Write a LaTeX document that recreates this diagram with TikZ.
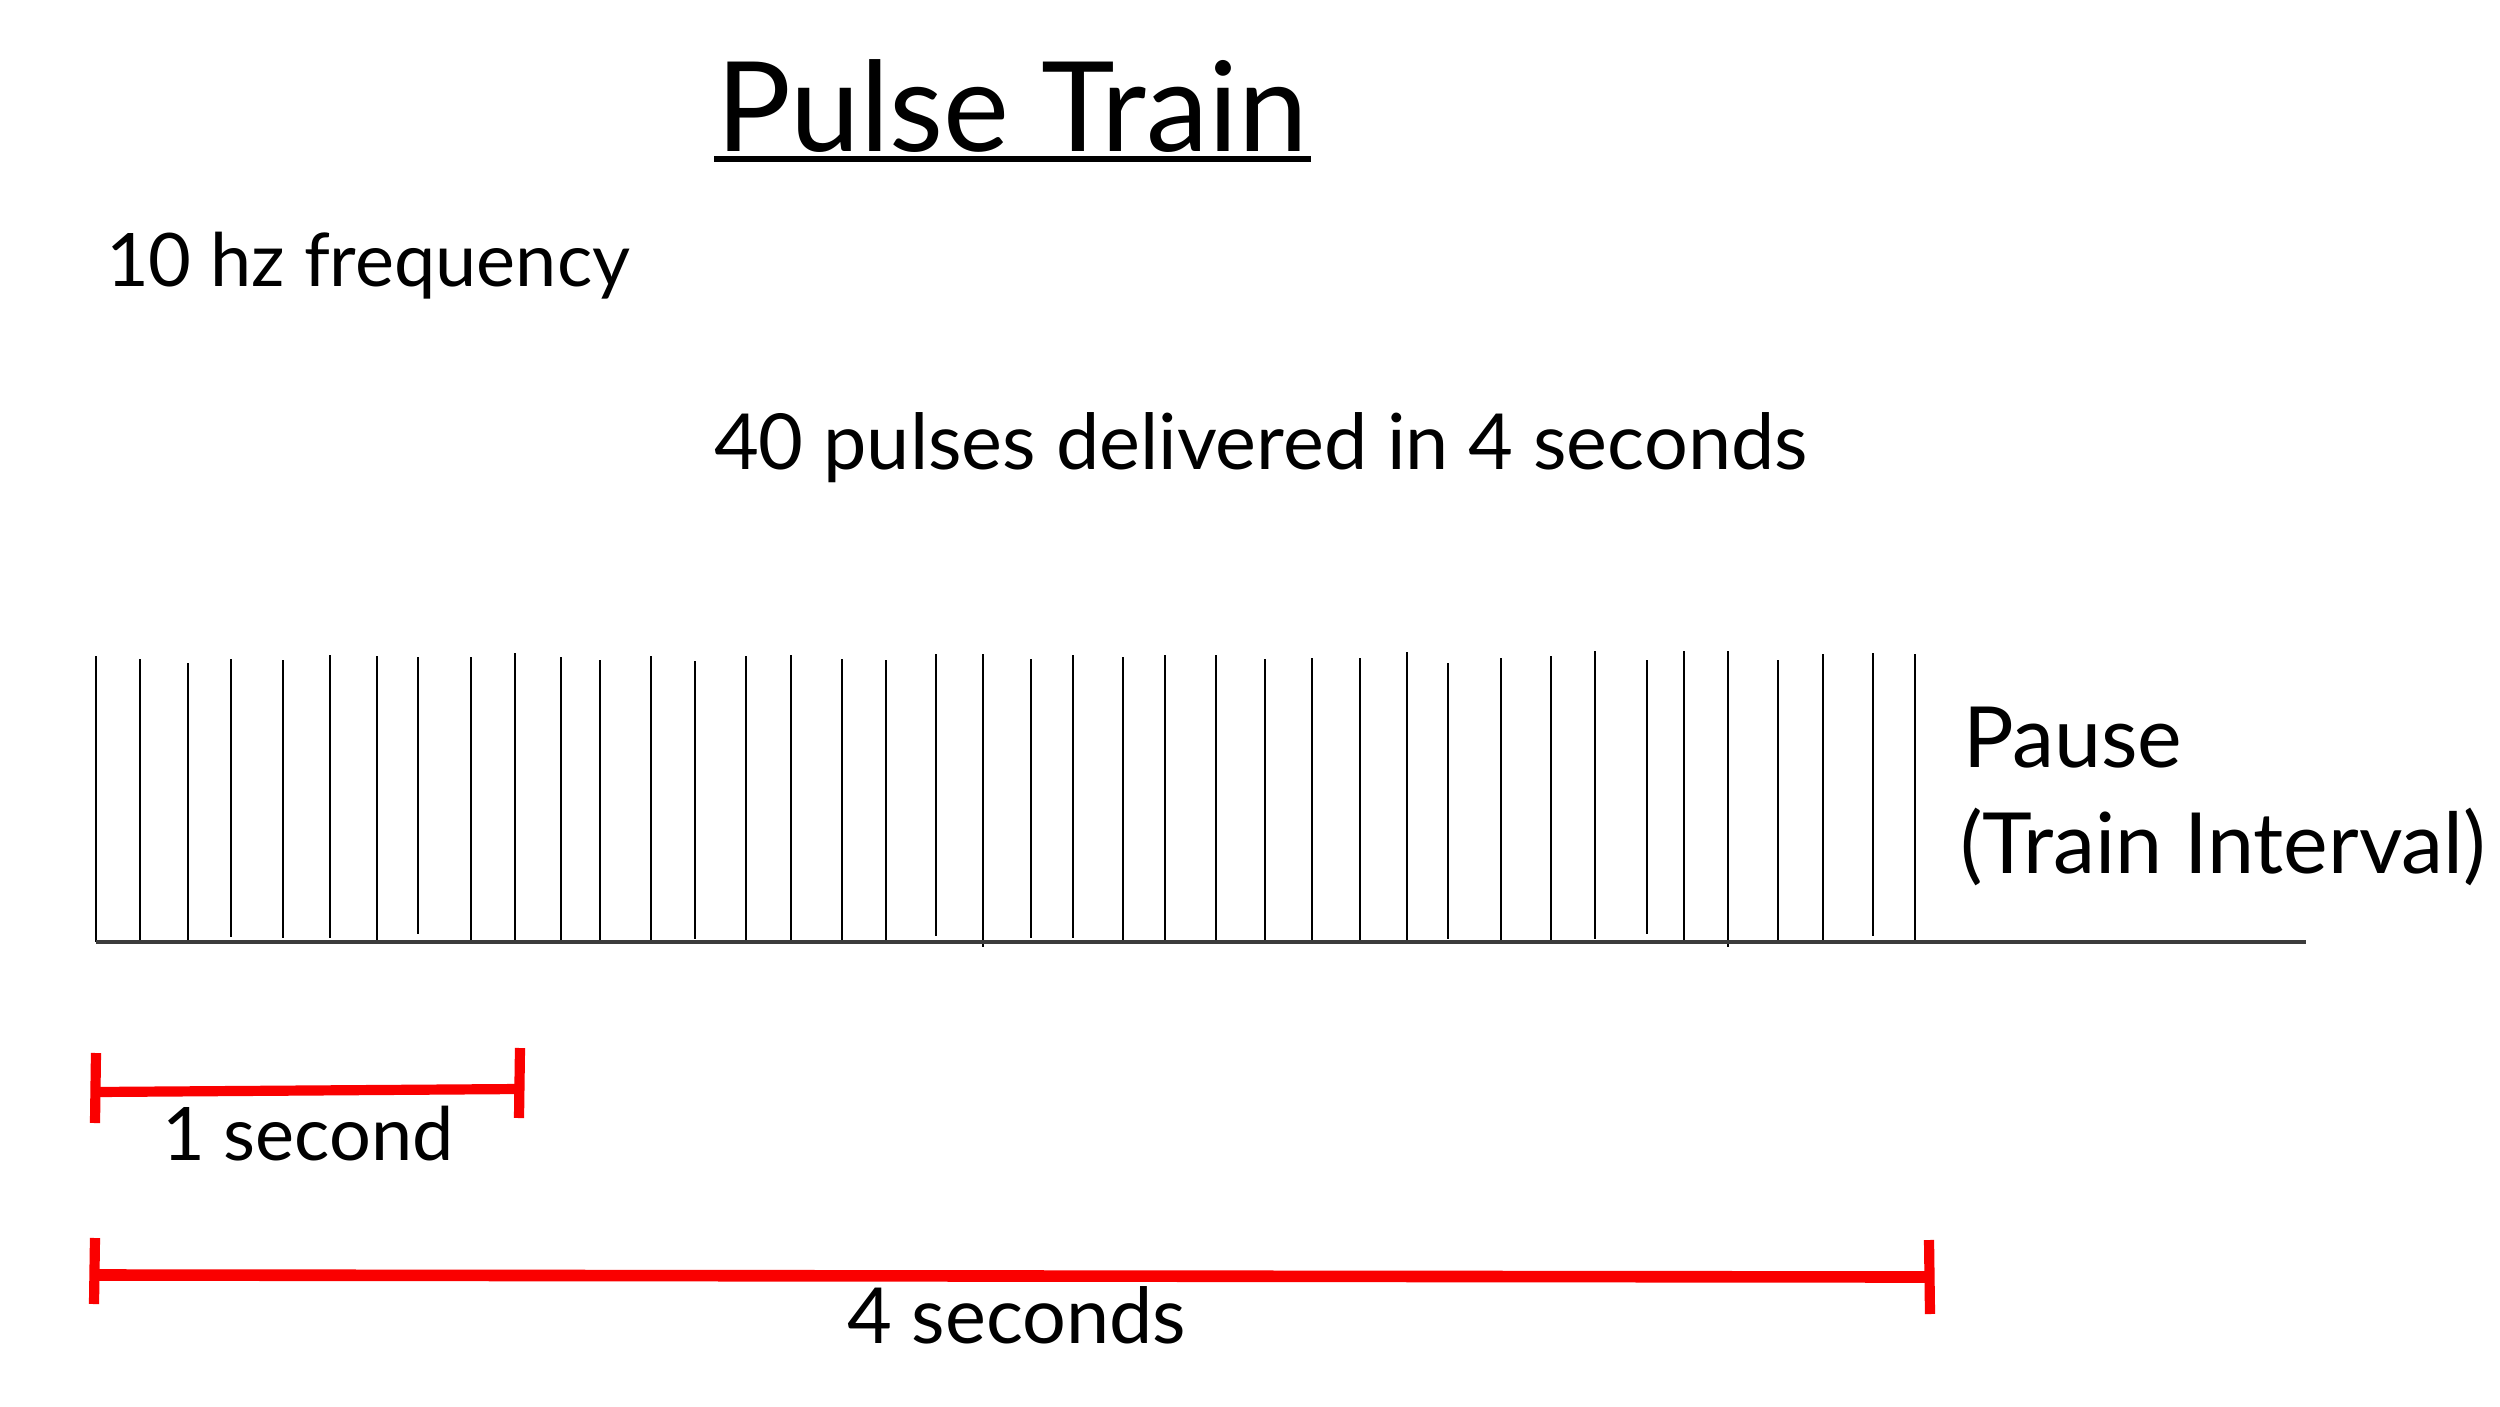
\documentclass[tikz,border=0pt]{standalone}
\usepackage{fontspec}
\setmainfont{Lato}
\definecolor{barred}{RGB}{250,0,0}
\definecolor{axisgray}{RGB}{60,60,60}
\tikzset{
  lbl/.style={anchor=base west, inner sep=0pt, outer sep=0pt, font=\fontsize{21}{25}\selectfont},
  midl/.style={anchor=base west, inner sep=0pt, outer sep=0pt, font=\fontsize{22}{26}\selectfont},
  bigl/.style={anchor=base west, inner sep=0pt, outer sep=0pt, font=\fontsize{24}{28}\selectfont},
  ttl/.style={anchor=base west, inner sep=0pt, outer sep=0pt, font=\fontsize{35.5}{42}\selectfont},
  pulse/.style={line width=0.6pt, black},
  axisline/.style={line width=1.1pt, axisgray},
  redbar/.style={line width=2.9pt, barred},
  redbarb/.style={line width=3.3pt, barred},
}
\begin{document}
\begin{tikzpicture}[x=0.01cm, y=-0.01cm]
\useasboundingbox (0,0) rectangle (2500,1406);
\fill[white] (0,0) rectangle (2500,1406);
% title
\node[ttl] (title) at (716,151) {Pulse Train};
\coordinate (ulA) at (714,159);
\coordinate (ulB) at (1311,159);
\draw[line width=1.7pt] (ulA) -- (ulB);
\node[lbl] (freq) at (106,286) {10 hz frequency};
\node[midl] (deliv) at (714,469) {40 pulses delivered in 4 seconds};
% pulses
\foreach \px/\pt/\pb in {96/656/942,140/659/940,188/663/942,231/659/937,283/660/938,330/655/938,377/656/942,418/657/934,471/657/942,515/653/940,561/657/942,600/660/942,651/656/942,695/661/939,746/656/942,791/655/940,842/659/942,886/660/942,936/654/936,983/654/947,1031/659/938,1073/655/938,1123/657/943,1165/655/943,1216/655/943,1265/659/941,1312/658/941,1360/658/941,1407/652/941,1448/663/939,1501/658/942,1551/656/942,1595/651/939,1647/660/934,1684/651/943,1728/651/947,1778/660/943,1823/654/942,1873/653/936,1915/654/942}
  \draw[pulse] (\px,\pt) -- (\px,\pb);
\coordinate (axA) at (96,942);
\coordinate (axB) at (2306,942);
\draw[axisline] (axA) -- (axB);
\node[bigl] (pause) at (1963,767) {Pause};
\node[bigl] (interval) at (1960,873) {(Train Interval)};
% 1 second bar
\coordinate (b1L) at (96,1092);
\coordinate (b1R) at (519,1089);
\draw[redbar] (b1L) -- (b1R);
\draw[redbar] (96,1053) -- (95,1123);
\draw[redbar] (520,1048) -- (519,1118);
\node[lbl] (one) at (162,1160) {1 second};
% 4 seconds bar
\coordinate (b2L) at (95,1275);
\coordinate (b2R) at (1930,1277);
\draw[redbarb] (b2L) -- (b2R);
\draw[redbar] (95,1238) -- (94,1304);
\draw[redbar] (1929,1240) -- (1930,1314);
\node[midl] (four) at (847,1343) {4 seconds};
\end{tikzpicture}
\end{document}
